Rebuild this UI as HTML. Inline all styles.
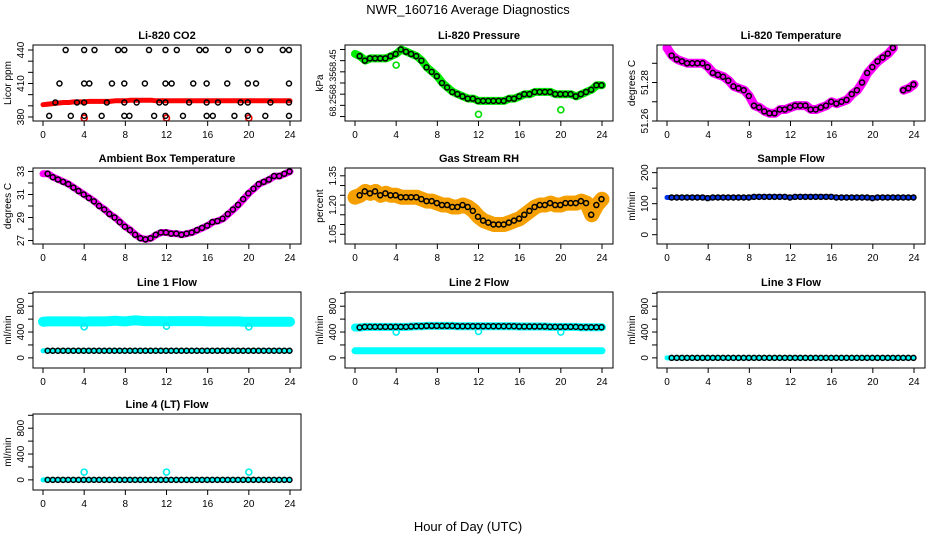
<!DOCTYPE html>
<html><head><meta charset="utf-8"><style>
body{margin:0;background:#fff;}
svg{display:block;font-family:"Liberation Sans",sans-serif;}
</style></head><body>
<svg id="chart" width="936" height="540">
<text x="468" y="14" text-anchor="middle" font-size="13">NWR_160716  Average Diagnostics</text>
<text x="468" y="531" text-anchor="middle" font-size="13">Hour of Day (UTC)</text>
</svg>
<script>
const hours=[0,0.5,1,1.5,2,2.5,3,3.5,4,4.5,5,5.5,6,6.5,7,7.5,8,8.5,9,9.5,10,10.5,11,11.5,12,12.5,13,13.5,14,14.5,15,15.5,16,16.5,17,17.5,18,18.5,19,19.5,20,20.5,21,21.5,22,22.5,23,23.5,24];
const co2Red=[391,391.5,392,392.5,393,393,393.5,393.5,393.5,394,394,394,394,394,394.5,394.5,394.5,395,395,395,395,395,394.5,394.5,394.5,394.5,394.5,394.5,394.5,394.5,394.5,394.5,394.5,394.5,394.5,394.5,394.5,394.5,394.5,394.5,394.5,394.5,394.5,394.5,394.5,394.5,394.5,394.5,394.5];
const co2BlackHours=[2.2,4,5,7.3,7.9,10.3,11.9,13,15.2,15.8,18,19.9,21.1,23.3,23.9,1.6,4,4.5,6.7,7.9,9.9,11.9,12.5,14.6,15.9,17.9,19.9,20.7,23.9,1.2,3.3,4,6.2,7.9,9.1,11.3,11.9,14.2,15.9,17,19.2,19.9,22.1,23.9,0.6,2.7,4,5.7,7.9,8.4,10.8,11.9,13.6,15.9,16.5,18.6,19.9,21.6,23.9];
const co2BlackValues=[440,440,440,440,440,440,440,440,440,440,440,440,440,440,440,410,410,410,410,410,410,410,410,410,410,410,410,410,410,393,393,393,393,393,393,393,393,393,393,393,393,393,393,393,381,381,381,381,381,381,381,381,381,381,381,381,381,381,381];
const co2OutHours=[4,12,20];
const co2OutValues=[379,379,379];
const pressure=[68.48,68.47,68.45,68.46,68.46,68.46,68.46,68.47,68.48,68.50,68.49,68.48,68.47,68.45,68.42,68.40,68.38,68.35,68.33,68.31,68.30,68.29,68.28,68.28,68.27,68.27,68.27,68.27,68.27,68.27,68.28,68.28,68.29,68.30,68.30,68.31,68.31,68.31,68.31,68.30,68.30,68.30,68.30,68.29,68.30,68.31,68.32,68.34,68.34];
const pressOutHours=[4,12,20];
const pressOutValues=[68.43,68.21,68.23];
const liTemp=[51.298,51.294,51.292,51.291,51.290,51.290,51.290,51.290,51.288,51.285,51.284,51.283,51.281,51.278,51.277,51.276,51.273,51.268,51.267,51.265,51.264,51.264,51.266,51.266,51.267,51.268,51.268,51.268,51.266,51.266,51.267,51.268,51.270,51.269,51.270,51.271,51.274,51.276,51.280,51.285,51.288,51.291,51.293,51.295,51.298,null,51.276,51.277,51.279];
const ambient=[32.8,32.8,32.5,32.3,32.1,31.9,31.6,31.3,31.0,30.7,30.4,30.0,29.7,29.3,29.0,28.6,28.2,27.9,27.5,27.2,27.1,27.2,27.5,27.7,27.7,27.6,27.6,27.5,27.6,27.7,27.9,28.1,28.3,28.6,28.7,28.9,29.3,29.7,30.1,30.6,31.1,31.5,31.9,32.1,32.3,32.6,32.6,32.8,33.0];
const gasRH=[1.24,1.25,1.27,1.26,1.27,1.25,1.26,1.25,1.25,1.24,1.24,1.24,1.24,1.23,1.22,1.22,1.21,1.20,1.20,1.19,1.19,1.20,1.19,1.17,1.14,1.12,1.11,1.10,1.10,1.10,1.11,1.12,1.13,1.15,1.17,1.19,1.20,1.20,1.21,1.20,1.20,1.21,1.21,1.21,1.22,1.21,1.15,1.20,1.23];
const sampleFlow=[120,120,120,120,120,120,120,120,118,120,120,120,120,120,120,120,120,122,122,122,122,122,122,122,120,122,122,122,122,122,122,122,122,120,120,120,120,120,120,120,118,120,120,120,120,120,120,120,120];
const line1High=[560,565,565,565,565,565,565,565,560,565,565,565,565,570,575,570,565,575,580,575,570,570,570,570,568,570,570,570,570,570,570,570,565,565,565,565,565,565,565,560,560,560,560,560,560,560,560,560,560];
const line1Low=[110,110,110,110,110,110,110,110,110,110,110,110,110,110,110,110,110,110,110,110,110,110,110,110,110,110,110,110,110,110,110,110,110,110,110,110,110,110,110,110,110,110,110,110,110,110,110,110,110];
const line1OutHours=[4,12,20];
const line1OutValues=[480,490,480];
const line2High=[470,470,480,480,480,480,480,480,480,480,480,485,490,490,495,495,495,495,495,495,490,490,490,490,490,490,490,490,490,490,490,490,485,485,485,485,485,485,480,480,480,480,480,480,475,475,475,475,475];
const line2Low=[110,110,110,110,110,110,110,110,110,110,110,110,110,110,110,110,110,110,110,110,110,110,110,110,110,110,110,110,110,110,110,110,110,110,110,110,110,110,110,110,110,110,110,110,110,110,110,110,110];
const line2OutHours=[4,12,20];
const line2OutValues=[400,410,400];
const line3Flow=[0,0,0,0,0,0,0,0,0,0,0,0,0,0,0,0,0,0,0,0,0,0,0,0,0,0,0,0,0,0,0,0,0,0,0,0,0,0,0,0,0,0,0,0,0,0,0,0,0];
const line4Flow=[0,0,0,0,0,0,0,0,0,0,0,0,0,0,0,0,0,0,0,0,0,0,0,0,0,0,0,0,0,0,0,0,0,0,0,0,0,0,0,0,0,0,0,0,0,0,0,0,0];
const line4OutHours=[4,12,20];
const line4OutValues=[120,120,120];
const xTicks=[0,4,8,12,16,20,24];
const flowTicks=[0,200,400,600,800,1000];
const flowLabels=["0","","400","","800",""];

const NS="http://www.w3.org/2000/svg";
const svg=document.getElementById('chart');
function mk(tag,attrs,parent){const e=document.createElementNS(NS,tag);for(const k in attrs)e.setAttribute(k,attrs[k]);(parent||svg).appendChild(e);return e;}

const panels=[
 {t:"Li-820 CO2",c:0,r:0,yl:"Licor ppm",y0:376.4,y1:444.5,ticks:[380,390,400,410,420,430,440],labels:["380","","","410","","","440"],
  bands:[[co2Red,"#ff0000",5]],black:null,blackH:co2BlackHours,blackV:co2BlackValues,outs:[[co2OutHours,co2OutValues,"#ff0000"]]},
 {t:"Li-820 Pressure",c:1,r:0,yl:"kPa",y0:68.18,y1:68.52,fs:9,ticks:[68.20,68.25,68.30,68.35,68.40,68.45,68.50],labels:["","68.25","","68.35","","68.45",""],
  bands:[[pressure,"#00ee00",8]],black:pressure,outs:[[pressOutHours,pressOutValues,"#00dd00"]]},
 {t:"Li-820 Temperature",c:2,r:0,yl:"degrees C",y0:51.26,y1:51.2995,ticks:[51.26,51.27,51.28,51.29],labels:["51.26","","51.28",""],
  bands:[[liTemp,"#ff00ff",9]],black:liTemp,outs:[]},
 {t:"Ambient Box Temperature",c:0,r:1,yl:"degrees C",y0:26.7,y1:33.3,ticks:[27,28,29,30,31,32,33],labels:["27","","29","","31","","33"],
  bands:[[ambient,"#ff00ff",7]],black:ambient,outs:[]},
 {t:"Gas Stream RH",c:1,r:1,yl:"percent",y0:1.00,y1:1.39,ticks:[1.05,1.10,1.15,1.20,1.25,1.30,1.35],labels:["1.05","","","1.20","","","1.35"],
  bands:[[gasRH,"#f5a000",15]],black:gasRH,outs:[]},
 {t:"Sample Flow",c:2,r:1,yl:"ml/min",y0:-30,y1:215,ticks:[0,50,100,150,200],labels:["0","","100","","200"],
  bands:[[sampleFlow,"#0033ee",5]],black:sampleFlow,outs:[]},
 {t:"Line 1 Flow",c:0,r:2,yl:"ml/min",y0:-157,y1:1020,ticks:flowTicks,labels:flowLabels,
  bands:[[line1High,"#00ffff",10],[line1Low,"#00ffff",5]],black:line1Low,outs:[[line1OutHours,line1OutValues,"#00eeee"]]},
 {t:"Line 2 Flow",c:1,r:2,yl:"ml/min",y0:-157,y1:1020,ticks:flowTicks,labels:flowLabels,
  bands:[[line2High,"#00ffff",8],[line2Low,"#00ffff",7]],black:line2High,outs:[[line2OutHours,line2OutValues,"#00eeee"]]},
 {t:"Line 3 Flow",c:2,r:2,yl:"ml/min",y0:-157,y1:1020,ticks:flowTicks,labels:flowLabels,
  bands:[[line3Flow,"#00ffff",5]],black:line3Flow,outs:[]},
 {t:"Line 4 (LT) Flow",c:0,r:3,yl:"ml/min",y0:-157,y1:1020,ticks:flowTicks,labels:flowLabels,
  bands:[[line4Flow,"#00ffff",5]],black:line4Flow,outs:[[line4OutHours,line4OutValues,"#00eeee"]]}
];
const rowTops=[45,168,292,414];
const BH=76,BW=268;
panels.forEach((p,i)=>{
  const slug=p.t.toLowerCase().replace(/[^a-z0-9]+/g,'-').replace(/-+$/,'');
  const g=mk('g',{});
  
  
  const L=p.c*312+33,T=rowTops[p.r],B=T+BH,R=L+BW;
  const xs=h=>p.c*312+43+h*247/24;
  const ys=v=>B-(v-p.y0)/(p.y1-p.y0)*BH;
  const clip=mk('clipPath',{id:'cp'+i},g);mk('rect',{x:L,y:T,width:BW,height:BH},clip);
  const data=mk('g',{'clip-path':'url(#cp'+i+')'},g);
  p.bands.forEach(b=>{
    let d='',pen=false;
    b[0].forEach((v,k)=>{if(v===null){pen=false;return;}d+=(pen?'L':'M')+xs(hours[k]).toFixed(1)+','+ys(v).toFixed(1);pen=true;});
    const pl=mk('path',{d:d,fill:'none',stroke:b[1],'stroke-width':b[2],'stroke-linecap':'round','stroke-linejoin':'round'},data);
    
    
  });
  p.outs.forEach(o=>{o[0].forEach((h,k)=>{
    const c=mk('circle',{cx:xs(h),cy:ys(o[1][k]),r:3,fill:'none',stroke:o[2],'stroke-width':1.6},data);
    
    
  });});
  if(p.black){p.black.forEach((v,k)=>{if(k===0||v===null)return;
    const c=mk('circle',{cx:xs(hours[k]-0.05),cy:ys(v),r:2.5,fill:'none',stroke:'#000','stroke-width':1.5},data);
    
    
  });}
  if(p.blackH){p.blackH.forEach((h,k)=>{
    const c=mk('circle',{cx:xs(h),cy:ys(p.blackV[k]),r:2.5,fill:'none',stroke:'#000','stroke-width':1.5},data);
    
    
  });}
  mk('rect',{x:L,y:T,width:BW,height:BH,fill:'none',stroke:'#000','stroke-width':1},g);
  const tt=mk('text',{x:L+BW/2,y:T-6,'text-anchor':'middle','font-size':11,'font-weight':'bold'},g);tt.textContent=p.t;
  
  
  xTicks.forEach(h=>{const x=xs(h);mk('line',{x1:x,y1:B,x2:x,y2:B+5,stroke:'#000'},g);
    const tx=mk('text',{x:x,y:B+17,'text-anchor':'middle','font-size':10},g);tx.textContent=h;
    
    });
  const fs=p.fs||10;
  p.ticks.forEach((v,k)=>{const y=ys(v);mk('line',{x1:L-5,y1:y,x2:L,y2:y,stroke:'#000'},g);
    if(p.labels[k]){const tx=mk('text',{x:L-9,y:y,'text-anchor':'middle','font-size':fs,transform:'rotate(-90 '+(L-9)+' '+y+')'},g);tx.textContent=p.labels[k];
    
    }});
  const yl=mk('text',{x:L-22,y:T+BH/2,'text-anchor':'middle','font-size':10,transform:'rotate(-90 '+(L-22)+' '+(T+BH/2)+')'},g);yl.textContent=p.yl;
  
  
});
</script>
</body></html>
